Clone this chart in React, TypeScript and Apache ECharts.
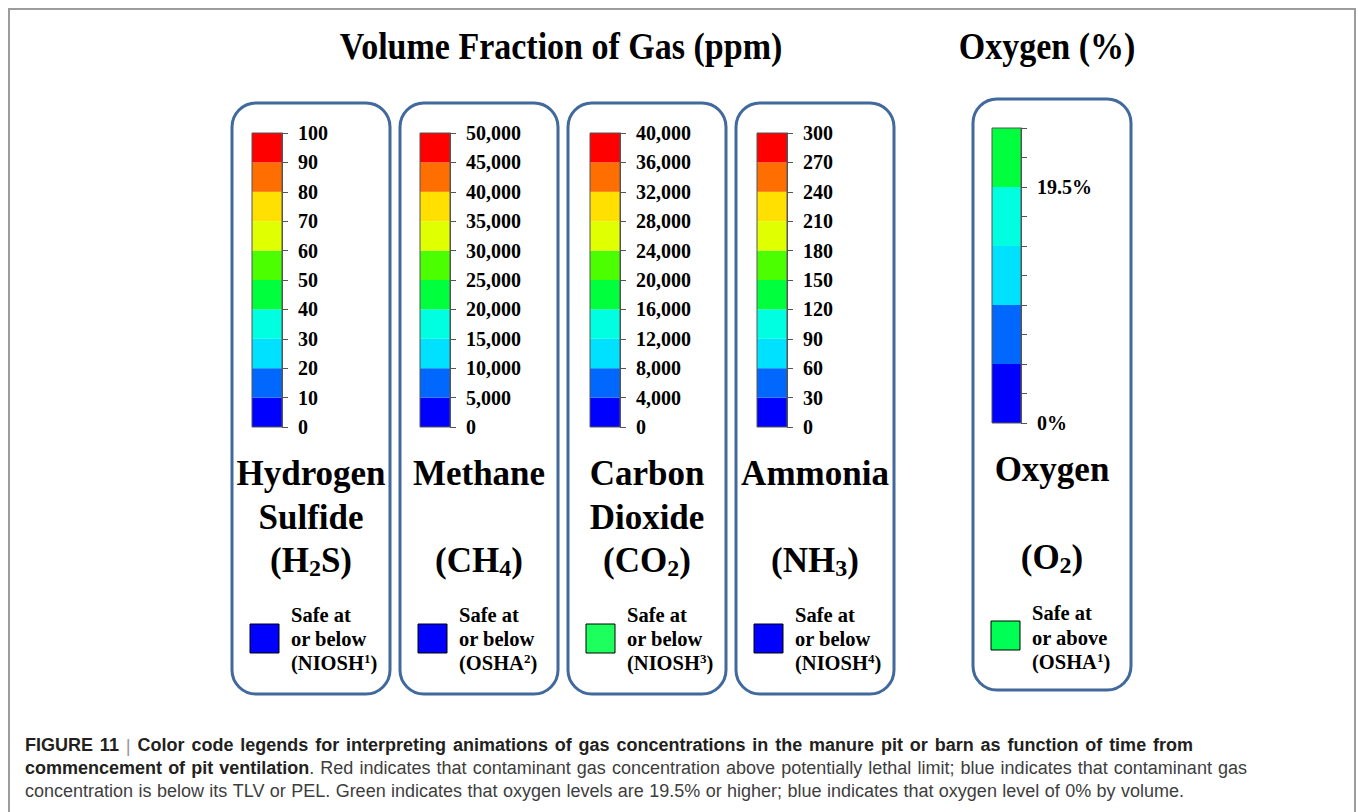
import React, { useEffect, useRef } from "react";
import * as echarts from "echarts";

// ---------- data ----------
const gasKeys = ["H2S", "CH4", "CO2", "NH3"];
const h2sTicks = [0, 10, 20, 30, 40, 50, 60, 70, 80, 90, 100];
const ch4Ticks = [0, 5000, 10000, 15000, 20000, 25000, 30000, 35000, 40000, 45000, 50000];
const co2Ticks = [0, 4000, 8000, 12000, 16000, 20000, 24000, 28000, 32000, 36000, 40000];
const nh3Ticks = [0, 30, 60, 90, 120, 150, 180, 210, 240, 270, 300];
const gasColors = [
  "#0000FF", "#0068FF", "#00E0FF", "#00FFE0", "#00FF3C",
  "#4CFF00", "#E0FF00", "#FFE000", "#FF6E00", "#FF0000",
];
const oxygenColors = ["#0000FF", "#0068FF", "#00E0FF", "#00FFE0", "#00FF3C"];
const oxygenTickLabels = ["0%", "", "", "", "", "", "", "", "19.5%", "", ""];
const oxygenSegment = 2; // each colour band spans two tick steps

const nameLines = [
  ["Hydrogen", "Sulfide", "(H{sub|2}S)"],
  ["Methane", "", "(CH{sub|4})"],
  ["Carbon", "Dioxide", "(CO{sub|2})"],
  ["Ammonia", "", "(NH{sub|3})"],
  ["Oxygen", "", "(O{sub|2})"],
];
const safeLines = [
  ["Safe at", "or below", "(NIOSH{sup|1})"],
  ["Safe at", "or below", "(OSHA{sup|2})"],
  ["Safe at", "or below", "(NIOSH{sup|3})"],
  ["Safe at", "or below", "(NIOSH{sup|4})"],
  ["Safe at", "or above", "(OSHA{sup|1})"],
];
const safeColors = ["#0000FF", "#0000FF", "#1CFF5C", "#0000FF", "#00FF55"];

const titleGas = "Volume Fraction of Gas (ppm)";
const titleOxygen = "Oxygen (%)";
const captionParts: [string, string][][] = [
  [
    ["b", "FIGURE 11 "],
    ["bar", "|"],
    ["b", " Color code legends for interpreting animations of gas concentrations in the manure pit or barn as function of time from"],
  ],
  [
    ["b", "commencement of pit ventilation"],
    ["r", ". Red indicates that contaminant gas concentration above potentially lethal limit; blue indicates that contaminant gas"],
  ],
  [
    ["r", "concentration is below its TLV or PEL. Green indicates that oxygen levels are 19.5% or higher; blue indicates that oxygen level of 0% by volume."],
  ],
];

// ---------- layout ----------
const SERIF = "'Liberation Serif', 'Times New Roman', serif";
const SANS = "'Liberation Sans', Arial, sans-serif";
const panels = [
  { x: 232, y: 103, w: 158, h: 591 },
  { x: 400, y: 103, w: 158, h: 591 },
  { x: 568, y: 103, w: 158, h: 591 },
  { x: 736, y: 103, w: 158, h: 591 },
  { x: 973, y: 99, w: 158, h: 591 },
];
const bars = [
  { x: 252, y: 133, w: 30, h: 294 },
  { x: 420, y: 133, w: 30, h: 294 },
  { x: 590, y: 133, w: 30, h: 294 },
  { x: 757, y: 133, w: 30, h: 294 },
  { x: 992, y: 128, w: 29, h: 295 },
];
const captionX = 25;
const captionY = [745, 768, 791];
const captionWidths = [1168, 1222, 1159];
const capStyles: Record<string, { size: number; weight: string; fill: string }> = {
  b: { size: 18, weight: "bold", fill: "#231f20" },
  r: { size: 18, weight: "normal", fill: "#3d3d3d" },
  bar: { size: 19, weight: "normal", fill: "#9a9a9a" },
};

function buildJustified(parts: [string, string][], target: number) {
  const canvas = document.createElement("canvas");
  const ctx = canvas.getContext("2d")!;
  const seq: ({ s: string; t: string } | null)[] = [];
  parts.forEach(([s, text]) => {
    const words = text.split(" ");
    words.forEach((w, i) => {
      if (i > 0) seq.push(null);
      if (w) seq.push({ s, t: w });
    });
  });
  const clean: ({ s: string; t: string } | null)[] = [];
  seq.forEach((x) => {
    if (x === null && (clean.length === 0 || clean[clean.length - 1] === null)) return;
    clean.push(x);
  });
  let wordsW = 0;
  let gaps = 0;
  clean.forEach((x) => {
    if (x === null) {
      gaps++;
      return;
    }
    const st = capStyles[x.s];
    ctx.font = `${st.weight} ${st.size}px ${SANS}`;
    wordsW += ctx.measureText(x.t).width;
  });
  const gap = gaps > 0 ? Math.max(4, (target - wordsW) / gaps) : 5;
  const text = clean.map((x) => (x === null ? "{gap| }" : `{${x.s}|${x.t}}`)).join("");
  return { text, gap };
}

export default function App() {
  const ref = useRef<HTMLDivElement>(null);
  useEffect(() => {
    if (!ref.current) return;
    const chart = echarts.init(ref.current, undefined, { renderer: "svg" });
    const gasTicks = [h2sTicks, ch4Ticks, co2Ticks, nh3Ticks];

    const grid = bars.map((b) => ({ left: b.x, top: b.y, width: b.w, height: b.h, containLabel: false }));
    const xAxis = bars.map((_, i) => ({
      type: "category" as const,
      gridIndex: i,
      data: [i < 4 ? gasKeys[i] : "O2"],
      show: false,
    }));
    const axisCommon = {
      type: "value" as const,
      position: "right" as const,
      z: 5,
      axisLine: { show: true, lineStyle: { color: "#555", width: 1 } },
      axisTick: { show: true, inside: false, length: 6, lineStyle: { color: "#555", width: 1 } },
      splitLine: { show: false },
      axisLabel: {
        margin: 16,
        fontFamily: SERIF,
        fontWeight: "bold" as const,
        fontSize: 20,
        color: "#000",
        hideOverlap: false,
      },
    };
    const yAxis: any[] = gasTicks.map((t, i) => ({
      ...axisCommon,
      gridIndex: i,
      min: t[0],
      max: t[t.length - 1],
      interval: t[1] - t[0],
      axisLabel: { ...axisCommon.axisLabel, formatter: (v: number) => v.toLocaleString("en-US") },
    }));
    yAxis.push({
      ...axisCommon,
      gridIndex: 4,
      min: 0,
      max: oxygenTickLabels.length - 1,
      interval: 1,
      axisLabel: { ...axisCommon.axisLabel, formatter: (v: number) => oxygenTickLabels[Math.round(v)] || "" },
    });

    const series: any[] = [];
    gasTicks.forEach((t, i) => {
      for (let j = 0; j < t.length - 1; j++) {
        series.push({
          type: "bar",
          xAxisIndex: i,
          yAxisIndex: i,
          stack: "p" + i,
          barWidth: "100%",
          barCategoryGap: "0%",
          silent: true,
          data: [t[j + 1] - t[j]],
          itemStyle: { color: gasColors[j] },
        });
      }
    });
    oxygenColors.forEach((c) => {
      series.push({
        type: "bar",
        xAxisIndex: 4,
        yAxisIndex: 4,
        stack: "p4",
        barWidth: "100%",
        barCategoryGap: "0%",
        silent: true,
        data: [oxygenSegment],
        itemStyle: { color: c },
      });
    });

    const graphics: any[] = [];
    graphics.push({
      type: "polyline",
      z: 1,
      shape: { points: [[9, 812], [9, 9], [1355, 9], [1355, 812]] },
      style: { stroke: "#9c9c9c", lineWidth: 2, fill: "none" },
    });
    const titleStyle = { fontFamily: SERIF, fontWeight: "bold", fontSize: 38, fill: "#000", align: "center", verticalAlign: "middle" };
    graphics.push({ type: "text", x: 561, y: 46, scaleX: 0.895, z: 10, style: { ...titleStyle, text: titleGas } });
    graphics.push({ type: "text", x: 1047, y: 46, scaleX: 0.895, z: 10, style: { ...titleStyle, text: titleOxygen } });

    panels.forEach((p, i) => {
      graphics.push({
        type: "rect", z: 1,
        shape: { x: p.x, y: p.y, width: p.w, height: p.h, r: 24 },
        style: { fill: "none", stroke: "#41699C", lineWidth: 3 },
      });
      const b = bars[i];
      graphics.push({
        type: "rect", z: 100,
        shape: { x: b.x, y: b.y, width: b.w, height: b.h },
        style: { fill: "none", stroke: "#555", lineWidth: 1 },
      });
      const cx = p.x + p.w / 2;
      const nameY = i === 4 ? [469, 513, 557] : [473, 517, 560];
      nameLines[i].forEach((line, k) => {
        if (!line) return;
        graphics.push({
          type: "text", x: cx, y: nameY[k], z: 10,
          style: {
            text: line,
            align: "center",
            verticalAlign: "middle",
            fontFamily: SERIF,
            fontWeight: "bold",
            fontSize: 35,
            fill: "#000",
            lineHeight: 40,
            rich: {
              sub: { fontFamily: SERIF, fontWeight: "bold", fontSize: 24, lineHeight: 12, verticalAlign: "bottom", fill: "#000" },
            },
          },
        });
      });
      const sqY = i === 4 ? 621 : 624;
      graphics.push({
        type: "rect", z: 10,
        shape: { x: p.x + 18, y: sqY, width: 29, height: 29 },
        style: { fill: safeColors[i], stroke: "#000", lineWidth: 1 },
      });
      const safeY = i === 4 ? [613, 638, 662] : [615, 639, 663];
      safeLines[i].forEach((line, k) => {
        graphics.push({
          type: "text", x: p.x + 59, y: safeY[k], z: 10,
          style: {
            text: line,
            align: "left",
            verticalAlign: "middle",
            fontFamily: SERIF,
            fontWeight: "bold",
            fontSize: 20.5,
            lineHeight: 22,
            fill: "#000",
            rich: {
              sup: { fontFamily: SERIF, fontWeight: "bold", fontSize: 13, lineHeight: 13, verticalAlign: "top", fill: "#000" },
            },
          },
        });
      });
    });

    captionParts.forEach((parts, k) => {
      const { text, gap } = buildJustified(parts, captionWidths[k]);
      const rich: any = { gap: { width: gap, fontFamily: SANS, fontSize: 18 } };
      Object.keys(capStyles).forEach((key) => {
        const st = capStyles[key];
        rich[key] = { fontFamily: SANS, fontSize: st.size, fontWeight: st.weight, fill: st.fill };
      });
      graphics.push({
        type: "text", x: captionX, y: captionY[k], z: 10,
        style: { text, align: "left", verticalAlign: "middle", fontFamily: SANS, fontSize: 18, fill: "#333", rich },
      });
    });

    chart.setOption({
      animation: false,
      backgroundColor: "#ffffff",
      grid,
      xAxis,
      yAxis,
      series,
      graphic: { elements: graphics },
    });
    return () => chart.dispose();
  }, []);

  return (
    <div
      ref={ref}
      style={{ position: "absolute", left: 0, top: 0, width: 1358, height: 812 }}
    />
  );
}
